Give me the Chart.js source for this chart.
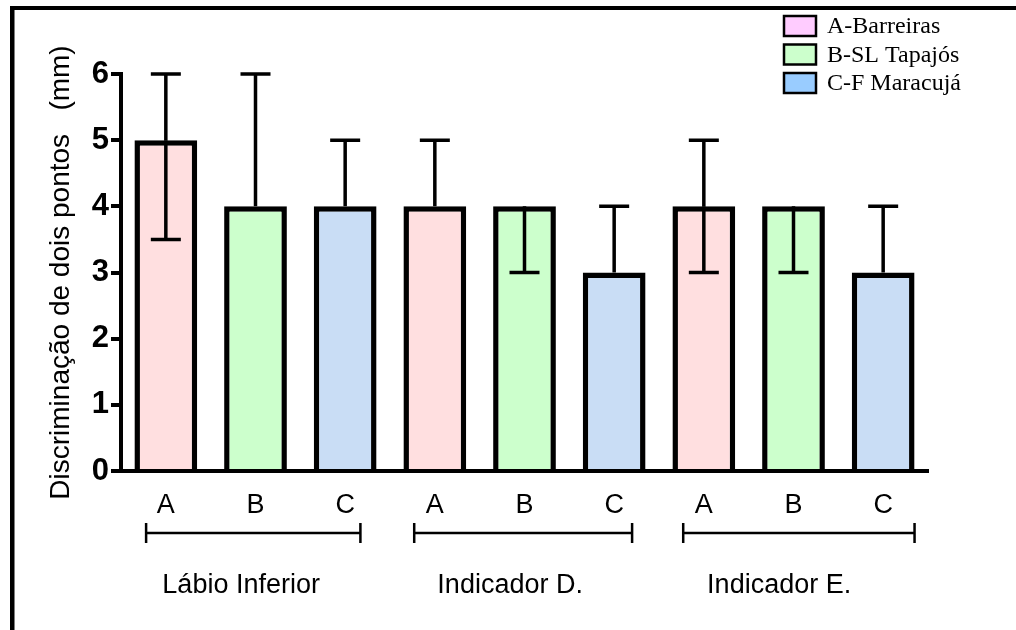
<!DOCTYPE html>
<html>
<head>
<meta charset="utf-8">
<script src="https://cdn.jsdelivr.net/npm/chart.js@4/dist/chart.umd.min.js"></script>
<style>
  html, body { margin: 0; padding: 0; background: #fff; }
  canvas { display: block; }
</style>
</head>
<body>
<canvas id="c" width="1016" height="630"></canvas>
<script>
// Groups (anatomical sites) and the three series measured at each site
const groups = ['Lábio Inferior', 'Indicador D.', 'Indicador E.'];
const seriesCodes = ['A', 'B', 'C'];
const seriesNames = ['A-Barreiras', 'B-SL Tapajós', 'C-F Maracujá'];

// Two-point discrimination (mm): median with lower / upper range, per bar
const medians = [5, 4, 4, 4, 4, 3, 4, 4, 3];
const lowerVals = [3.5, 4, 4, 4, 3, 3, 3, 3, 3];
const upperVals = [6, 6, 5, 5, 4, 4, 5, 4, 4];

const yTicks = [0, 1, 2, 3, 4, 5, 6];
const yTitle = 'Discriminação de dois pontos   (mm)';

// Styling
const barFills = ['#FFDFE0', '#CCFFCC', '#C9DDF5'];
const legendFills = ['#FFCCFF', '#CCFFCC', '#99CCFF'];
const SANS = "'Liberation Sans', Arial, Helvetica, sans-serif";
const SERIF = "'Liberation Serif', 'Times New Roman', serif";

const labels = [];
const fills = [];
groups.forEach(() => seriesCodes.forEach((code, i) => { labels.push(code); fills.push(barFills[i]); }));

// Bracket extents under each group, in category units relative to first/last bar
const bracketEnds = [[-0.22, 0.17], [-0.23, 0.20], [-0.23, 0.35]];

const decorations = {
  id: 'decorations',
  afterDatasetsDraw(chart) {
    const ctx = chart.ctx;
    const x = chart.scales.x, y = chart.scales.y;
    ctx.save();
    // whiskers: a stem and cap on each side that differs from the median
    ctx.strokeStyle = '#000';
    ctx.lineWidth = 3.5;
    ctx.lineCap = 'butt';
    medians.forEach((m, i) => {
      const cx = x.getPixelForValue(i);
      const ym = y.getPixelForValue(m);
      [lowerVals[i], upperVals[i]].forEach(v => {
        if (v === m) return;
        const py = y.getPixelForValue(v);
        ctx.beginPath();
        ctx.moveTo(cx, ym); ctx.lineTo(cx, py);
        ctx.moveTo(cx - 15, py); ctx.lineTo(cx + 15, py);
        ctx.stroke();
      });
    });
    ctx.restore();
  },
  afterDraw(chart) {
    const ctx = chart.ctx;
    const x = chart.scales.x;
    const step = x.getPixelForValue(1) - x.getPixelForValue(0);
    ctx.save();

    // outer frame (left and top edges)
    ctx.fillStyle = '#000';
    ctx.fillRect(10, 6, 1016 - 10, 4);
    ctx.fillRect(10, 6, 4.5, 630 - 6);

    // y axis title
    ctx.save();
    ctx.translate(61, (chart.chartArea.top + chart.chartArea.bottom) / 2);
    ctx.rotate(-Math.PI / 2);
    ctx.font = '28px ' + SANS;
    ctx.textAlign = 'center';
    ctx.textBaseline = 'middle';
    ctx.fillStyle = '#000';
    ctx.fillText(yTitle, 0, 0);
    ctx.restore();

    // group brackets and group names
    ctx.strokeStyle = '#000';
    ctx.lineWidth = 2.5;
    groups.forEach((g, gi) => {
      const first = gi * seriesCodes.length;
      const last = first + seriesCodes.length - 1;
      const x0 = x.getPixelForValue(first) + bracketEnds[gi][0] * step;
      const x1 = x.getPixelForValue(last) + bracketEnds[gi][1] * step;
      const by = 533;
      ctx.beginPath();
      ctx.moveTo(x0, by); ctx.lineTo(x1, by);
      ctx.moveTo(x0, by - 10); ctx.lineTo(x0, by + 10);
      ctx.moveTo(x1, by - 10); ctx.lineTo(x1, by + 10);
      ctx.stroke();
      ctx.font = '27px ' + SANS;
      ctx.textAlign = 'center';
      ctx.textBaseline = 'alphabetic';
      ctx.fillStyle = '#000';
      const mid = x.getPixelForValue(first + 1) - 0.16 * step;
      ctx.fillText(g, mid, 593);
    });

    // legend
    ctx.font = '24px ' + SERIF;
    ctx.textAlign = 'left';
    ctx.textBaseline = 'middle';
    seriesNames.forEach((name, i) => {
      const top = 15 + i * 28.5;
      ctx.fillStyle = legendFills[i];
      ctx.fillRect(784, top + 1, 32, 20);
      ctx.strokeStyle = '#000';
      ctx.lineWidth = 2.5;
      ctx.strokeRect(784, top + 1, 32, 20);
      ctx.fillStyle = '#000';
      ctx.fillText(name, 827, top + 12);
    });

    ctx.restore();
  }
};

new Chart(document.getElementById('c'), {
  type: 'bar',
  data: {
    labels: labels,
    datasets: [{
      data: medians,
      backgroundColor: fills,
      borderColor: '#000',
      borderWidth: 5.5,
      barPercentage: 0.70,
      categoryPercentage: 1.0
    }]
  },
  options: {
    responsive: false,
    animation: false,
    devicePixelRatio: 1,
    layout: { padding: { left: 0, top: 74, right: 88, bottom: 0 } },
    plugins: { legend: { display: false }, tooltip: { enabled: false } },
    scales: {
      x: {
        grid: { display: false },
        border: { display: true, width: 4, color: '#000' },
        ticks: { color: '#000', font: { family: SANS, size: 27 }, padding: 10, maxRotation: 0 },
        afterFit(scale) { scale.height = 159; }
      },
      y: {
        min: 0, max: 6,
        afterBuildTicks(scale) { scale.ticks = yTicks.map(v => ({ value: v })); },
        grid: { display: true, drawOnChartArea: false, drawTicks: true, tickLength: 10, lineWidth: 4, color: '#000' },
        border: { display: true, width: 4, color: '#000' },
        ticks: { color: '#000', font: { family: SANS, size: 31, weight: 'bold' }, padding: 2 },
        afterFit(scale) { scale.width = 121; }
      }
    }
  },
  plugins: [decorations]
});
</script>
</body>
</html>
